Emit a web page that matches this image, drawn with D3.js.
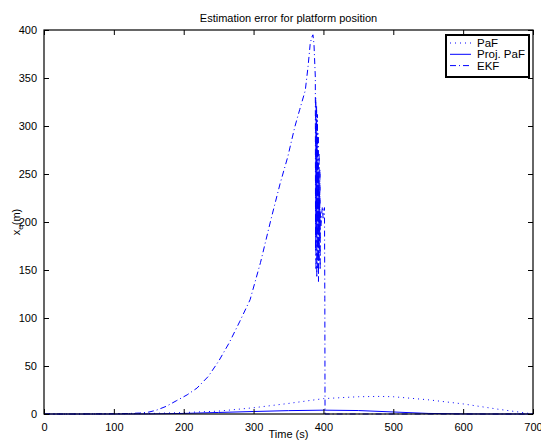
<!DOCTYPE html>
<html>
<head>
<meta charset="utf-8">
<script src="https://cdn.jsdelivr.net/npm/d3@7"></script>
<style>
  body { margin: 0; background: #fff; }
  svg { font-family: "Liberation Sans", Arial, sans-serif; }
</style>
</head>
<body>
<div id="chart"></div>
<script>
// PaF (dotted)
const pafTime  = [0, 50, 100, 150, 200, 250, 300, 350, 400, 450, 480, 500, 550, 600, 650, 680, 700];
const pafValue = [0, 0, 0.2, 0.5, 1.5, 3, 6.5, 11, 16, 18, 18.3, 18, 14.8, 10.5, 5, 2, 0];

// Proj. PaF (solid)
const projTime  = [0, 50, 100, 150, 200, 250, 300, 350, 400, 450, 500, 550, 600, 650, 700];
const projValue = [0, 0, 0, 0.1, 0.6, 1.6, 2.6, 3.5, 4, 3.6, 2.1, 0.6, 0.1, 0, 0];

// EKF (dash-dot)
const ekfTime = [0, 50, 100, 120, 137, 150, 161, 175, 190, 205, 219, 235, 250, 265, 280, 295, 310, 325, 338, 349,
  359, 366, 374, 378, 381, 383, 385, 386.5, 388,
  388.4, 388.7, 389, 389.3, 389.6, 389.9, 390.2, 390.5, 390.8, 391.1, 391.4, 391.7, 392, 392.3, 392.6,
  392.9, 393.2, 393.5, 393.8, 394.1, 394.4, 394.7, 395, 395.3, 395.6,
  396.5, 397.5, 398.5, 399.5, 400.5, 401.5, 402, 402.3, 450, 500, 600, 700];
const ekfValue = [0, 0, 0.3, 0.5, 1, 2, 4, 8, 14, 20, 27, 39, 55, 74, 96, 119, 158, 203, 240, 268,
  299, 317, 337, 362, 385, 392, 395, 385, 358,
  351, 170, 330, 150, 300, 185, 322, 142, 285, 205, 312, 152, 262, 172, 292,
  138, 252, 192, 272, 160, 232, 180, 255, 150, 210,
  196, 208, 216, 204, 212, 215, 120, 0, 0, 0, 0, 0];

const xTicks = [0, 100, 200, 300, 400, 500, 600, 700];
const yTicks = [0, 50, 100, 150, 200, 250, 300, 350, 400];

const width = 541, height = 442;
const margin = {left: 44, right: 8, top: 30, bottom: 28};
const fontSize = 11;

const svg = d3.select("#chart").append("svg")
    .attr("width", width)
    .attr("height", height);

const x = d3.scaleLinear().domain([0, 700]).range([margin.left, width - margin.right]);
const y = d3.scaleLinear().domain([0, 400]).range([height - margin.bottom, margin.top]);

const blue = "#0000ff";

function series(times, values) {
    return times.map((t, i) => [t, values[i]]);
}

const line = d3.line()
    .x(d => x(d[0]))
    .y(d => y(d[1]));

const plot = svg.append("g");

plot.append("path")
    .datum(series(pafTime, pafValue))
    .attr("d", line)
    .attr("fill", "none")
    .attr("stroke", blue)
    .attr("stroke-width", 1)
    .attr("stroke-dasharray", "1,4");

plot.append("path")
    .datum(series(projTime, projValue))
    .attr("d", line)
    .attr("fill", "none")
    .attr("stroke", blue)
    .attr("stroke-width", 1);

plot.append("path")
    .datum(series(ekfTime, ekfValue))
    .attr("d", line)
    .attr("fill", "none")
    .attr("stroke", blue)
    .attr("stroke-width", 1)
    .attr("stroke-dasharray", "6,3,1,3");

// axes: ticks inward on all four sides
const axisStyle = g => {
    g.select(".domain").remove();
    g.selectAll(".tick line").attr("stroke", "#000");
    g.selectAll("text").attr("font-size", fontSize).attr("fill", "#000");
};

svg.append("g")
    .attr("transform", "translate(0," + y(0) + ")")
    .call(d3.axisBottom(x).tickValues(xTicks).tickSize(-5).tickPadding(9).tickFormat(d3.format("d")))
    .call(axisStyle);

svg.append("g")
    .attr("transform", "translate(0," + y(400) + ")")
    .call(d3.axisTop(x).tickValues(xTicks).tickSize(-5).tickFormat(""))
    .call(axisStyle);

svg.append("g")
    .attr("transform", "translate(" + x(0) + ",0)")
    .call(d3.axisLeft(y).tickValues(yTicks).tickSize(-5).tickPadding(7).tickFormat(d3.format("d")))
    .call(axisStyle);

svg.append("g")
    .attr("transform", "translate(" + x(700) + ",0)")
    .call(d3.axisRight(y).tickValues(yTicks).tickSize(-5).tickFormat(""))
    .call(axisStyle);

svg.append("rect")
    .attr("x", x(0))
    .attr("y", y(400))
    .attr("width", x(700) - x(0))
    .attr("height", y(0) - y(400))
    .attr("fill", "none")
    .attr("stroke", "#000")
    .attr("stroke-width", 1.2);

// title and labels
svg.append("text")
    .attr("x", (x(0) + x(700)) / 2)
    .attr("y", 22)
    .attr("text-anchor", "middle")
    .attr("font-size", fontSize)
    .text("Estimation error for platform position");

svg.append("text")
    .attr("x", (x(0) + x(700)) / 2)
    .attr("y", 438)
    .attr("text-anchor", "middle")
    .attr("font-size", fontSize)
    .text("Time (s)");

const ylab = svg.append("text")
    .attr("transform", "translate(20," + (y(0) + y(400)) / 2 + ") rotate(-90)")
    .attr("text-anchor", "middle")
    .attr("font-size", fontSize);
ylab.append("tspan").text("x");
ylab.append("tspan").attr("font-size", 8).attr("dy", 3).text("e");
ylab.append("tspan").attr("dy", -3).text("(m)");

// legend
const legendItems = ["PaF", "Proj. PaF", "EKF"];
const legendDash = ["1,4", null, "6,3,1,3"];

const legend = svg.append("g").attr("transform", "translate(446,35)");
legend.append("rect")
    .attr("width", 83)
    .attr("height", 42)
    .attr("fill", "#fff")
    .attr("stroke", "#000")
    .attr("stroke-width", 2);

legendItems.forEach((name, i) => {
    const cy = 8 + i * 11.3;
    legend.append("line")
        .attr("x1", 4).attr("x2", 25)
        .attr("y1", cy).attr("y2", cy)
        .attr("stroke", blue)
        .attr("stroke-width", 1)
        .attr("stroke-dasharray", legendDash[i]);
    legend.append("text")
        .attr("x", 31)
        .attr("y", cy + 4)
        .attr("font-size", 11.5)
        .text(name);
});
</script>
</body>
</html>
